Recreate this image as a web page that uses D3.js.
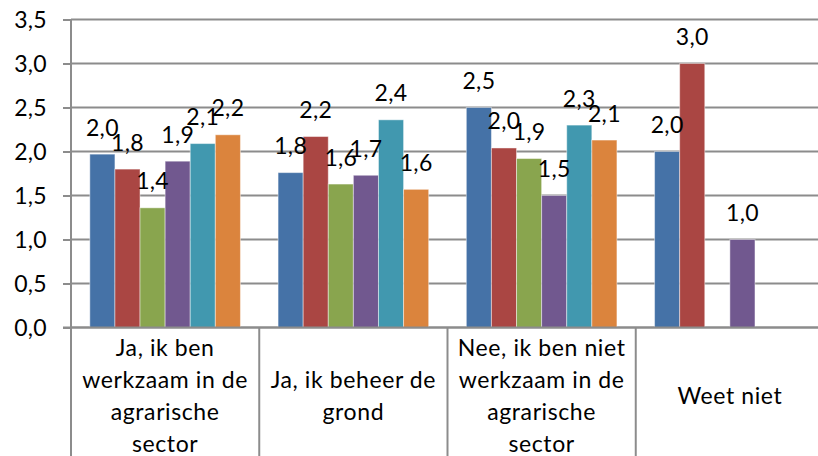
<!DOCTYPE html>
<html>
<head>
<meta charset="utf-8">
<script src="https://cdn.jsdelivr.net/npm/d3@7"></script>
<style>
  body { margin: 0; background: #fff; }
  svg text { font-family: Lato, "Open Sans", sans-serif; fill: #000; }
</style>
</head>
<body>
<div id="chart"></div>
<script>
let width = 818,
    height = 456;

// data
let categories = [
  ["Ja, ik ben", "werkzaam in de", "agrarische", "sector"],
  ["Ja, ik beheer de", "grond"],
  ["Nee, ik ben niet", "werkzaam in de", "agrarische", "sector"],
  ["Weet niet"]
];
let seriesBlue   = [1.97, 1.76, 2.50, 2.00];
let seriesRed    = [1.80, 2.17, 2.04, 3.00];
let seriesGreen  = [1.36, 1.63, 1.92, null];
let seriesPurple = [1.89, 1.73, 1.50, 1.00];
let seriesTeal   = [2.09, 2.36, 2.30, null];
let seriesOrange = [2.19, 1.57, 2.13, null];
let yTicks = [0, 0.5, 1, 1.5, 2, 2.5, 3, 3.5];
let yTickLabels = ["0,0", "0,5", "1,0", "1,5", "2,0", "2,5", "3,0", "3,5"];

let series = [seriesBlue, seriesRed, seriesGreen, seriesPurple, seriesTeal, seriesOrange];
let colors = ["#4572A7", "#AA4643", "#89A54E", "#71588F", "#4198AF", "#DB843D"];

let plotLeft = 71, plotTop = 19.5, plotBottom = 327.5, plotRight = 824;

let yScale = d3.scaleLinear().domain([0, 3.5]).range([plotBottom, plotTop]);
let xScale = d3.scaleBand().domain(d3.range(categories.length)).range([plotLeft, plotRight]);

// Excel style: gap width 150% => band = 7.5 bars
let barW = xScale.bandwidth() / 7.5;
let xSeries = d3.scaleBand().domain(d3.range(series.length))
  .range([0, barW * series.length]);

let fmt = function(v) { return d3.format(".1f")(v).replace(".", ","); };

let svg = d3.select("#chart").append("svg")
  .attr("width", width)
  .attr("height", height);

// gridlines
svg.append("g").selectAll("line")
  .data(yTicks)
  .enter().append("line")
  .attr("x1", plotLeft).attr("x2", width)
  .attr("y1", d => yScale(d)).attr("y2", d => yScale(d))
  .style("stroke", "#8c8c8c")
  .style("stroke-width", 2);

// y axis
let yAxis = d3.axisLeft(yScale)
  .tickValues(yTicks)
  .tickFormat((d, i) => yTickLabels[i])
  .tickSize(8)
  .tickPadding(16);

let yAxisG = svg.append("g")
  .attr("transform", "translate(" + plotLeft + ",0)")
  .call(yAxis);
yAxisG.select(".domain").remove();
yAxisG.selectAll(".tick line").style("stroke", "#8c8c8c").style("stroke-width", 2);
yAxisG.selectAll(".tick text")
  .style("font-size", "23px")
  .style("letter-spacing", "0.3px")
  .attr("dy", "0.36em");

// y axis line
svg.append("line")
  .attr("x1", plotLeft).attr("x2", plotLeft)
  .attr("y1", plotTop).attr("y2", height)
  .style("stroke", "#8c8c8c").style("stroke-width", 2);

// bars
let groups = svg.append("g").selectAll("g.cat")
  .data(categories)
  .enter().append("g")
  .attr("class", "cat")
  .attr("transform", (d, i) => "translate(" + (xScale(i) + barW * 0.75) + ",0)");

groups.each(function(c, ci) {
  let g = d3.select(this);
  let vals = series.map((s, si) => ({ si: si, v: s[ci] })).filter(d => d.v !== null);
  g.selectAll("rect")
    .data(vals)
    .enter().append("rect")
    .attr("x", d => xSeries(d.si))
    .attr("width", barW)
    .attr("y", d => yScale(d.v))
    .attr("height", d => plotBottom - yScale(d.v))
    .style("fill", d => colors[d.si])
    .style("stroke", "rgba(255,255,255,0.45)")
    .style("stroke-width", 1);
});

// x axis line
svg.append("line")
  .attr("x1", plotLeft - 8).attr("x2", width)
  .attr("y1", plotBottom).attr("y2", plotBottom)
  .style("stroke", "#8c8c8c").style("stroke-width", 2);

// category separators
svg.append("g").selectAll("line")
  .data(d3.range(categories.length + 1))
  .enter().append("line")
  .attr("x1", i => plotLeft + i * xScale.step())
  .attr("x2", i => plotLeft + i * xScale.step())
  .attr("y1", plotBottom).attr("y2", height)
  .style("stroke", "#8c8c8c").style("stroke-width", 2);

// data labels
groups.each(function(c, ci) {
  let g = d3.select(this);
  let vals = series.map((s, si) => ({ si: si, v: s[ci] })).filter(d => d.v !== null);
  g.selectAll("text.lbl")
    .data(vals)
    .enter().append("text")
    .attr("class", "lbl")
    .attr("x", d => xSeries(d.si) + barW / 2)
    .attr("y", d => yScale(d.v) - 18.5)
    .attr("text-anchor", "middle")
    .style("font-size", "23px")
    .style("letter-spacing", "0.3px")
    .text(d => fmt(d.v));
});

// category labels
let lineH = 32, midY = 404;
svg.append("g").selectAll("text")
  .data(categories)
  .enter().append("text")
  .attr("text-anchor", "middle")
  .style("font-size", "23px")
  .style("letter-spacing", "0.6px")
  .attr("transform", (d, i) => "translate(" + (xScale(i) + xScale.bandwidth() / 2) + ",0)")
  .each(function(lines) {
    let t = d3.select(this);
    lines.forEach((ln, li) => {
      t.append("tspan")
        .attr("x", 0)
        .attr("y", midY + (li - (lines.length - 1) / 2) * lineH)
        .text(ln);
    });
  });
</script>
</body>
</html>
